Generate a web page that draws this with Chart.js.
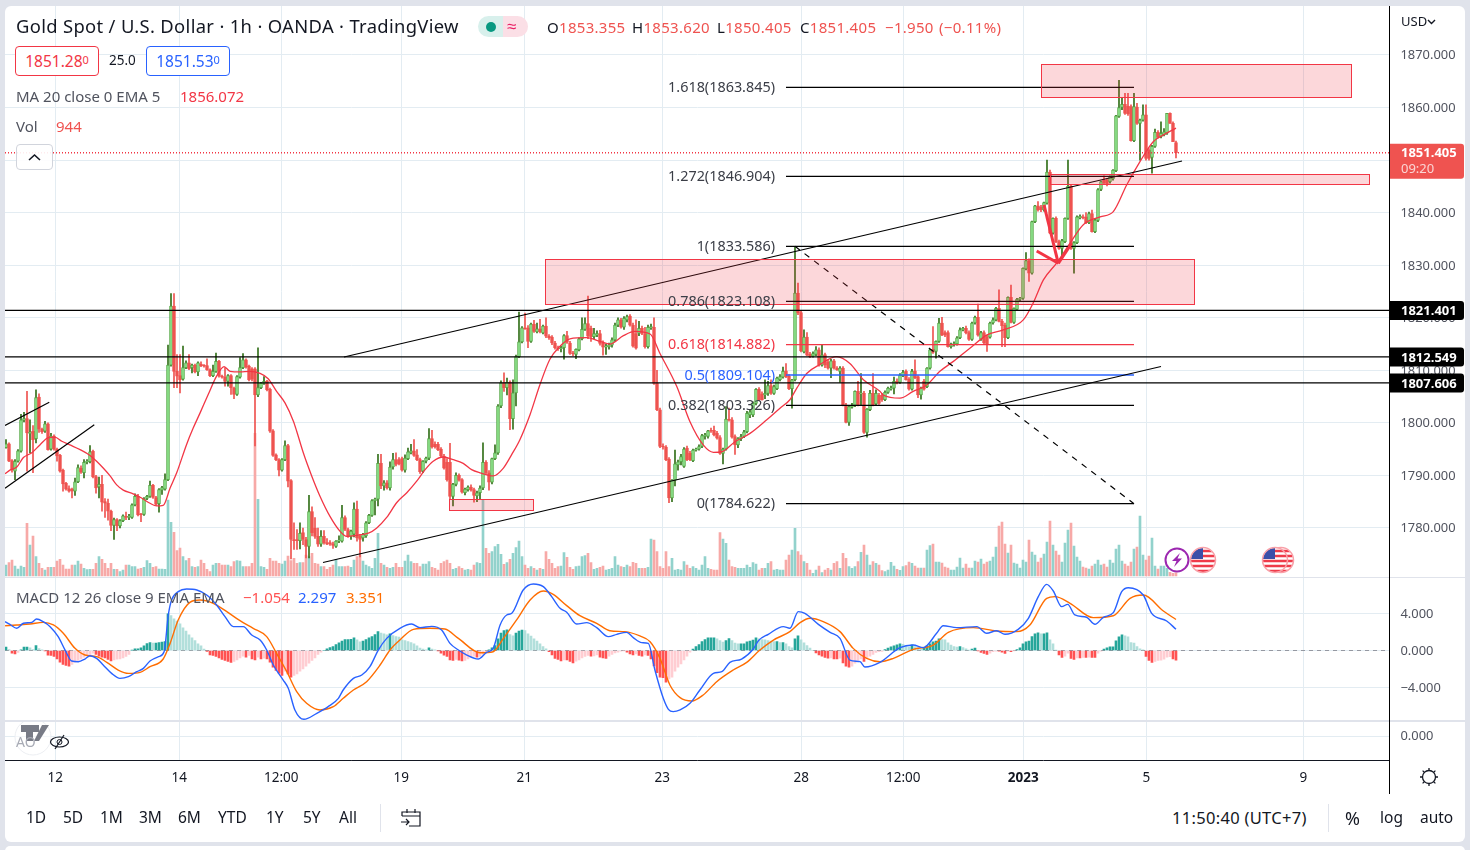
<!DOCTYPE html>
<html>
<head>
<meta charset="utf-8">
<title>Gold Spot / U.S. Dollar</title>
<script src="https://cdn.jsdelivr.net/npm/chart.js@4"></script>
<style>
html,body{margin:0;padding:0;width:1470px;height:850px;overflow:hidden;background:#e0e3eb;font-family:"Noto Sans",sans-serif;color:#131722}
.panel{position:absolute;left:5px;width:1460px;background:#fff;border-radius:6px}
canvas{position:absolute;left:5px}
.t{position:absolute;white-space:nowrap;line-height:1}
.q{top:20px;font-size:15px;letter-spacing:.3px;color:#ef5350}
.q span{color:#131722}
.line{position:absolute;background:#000}
.sep{position:absolute;left:5px;width:1460px;background:#e0e3eb}
.box{position:absolute;box-sizing:border-box;border:1px solid;border-radius:4px;background:#fff;text-align:center}
.box sup{font-size:11px;vertical-align:3px;line-height:0}
svg{position:absolute}
</style>
</head>
<body>
<div class="panel" style="top:6px;height:836px"></div>
<div class="panel" style="top:846px;height:10px"></div>
<canvas id="priceChart" width="1460" height="571" style="top:6px"></canvas>
<canvas id="macdChart" width="1460" height="143" style="top:578px"></canvas>
<canvas id="aoChart" width="1460" height="72" style="top:722px"></canvas>
<div class="sep" style="top:576.5px;height:1.5px"></div>
<div class="sep" style="top:720px;height:2px"></div>
<div class="line" style="left:1389px;top:6px;width:1px;height:788px"></div>

<div class="t" style="left:16px;top:17px;font-size:18.4px;letter-spacing:.33px">Gold Spot / U.S. Dollar · 1h · OANDA · TradingView</div>
<div style="position:absolute;left:478px;top:16px;width:50px;height:21px;border-radius:11px;background:linear-gradient(90deg,#d8f0ec 0 25px,#fbdfe6 25px)"></div>
<div style="position:absolute;left:486px;top:22px;width:10px;height:10px;border-radius:5px;background:#089981"></div>
<div class="t" style="left:507px;top:17px;font-size:17px;color:#e91e63">≈</div>
<div class="t q" style="left:547px"><span>O</span>1853.355</div>
<div class="t q" style="left:632px"><span>H</span>1853.620</div>
<div class="t q" style="left:717px"><span>L</span>1850.405</div>
<div class="t q" style="left:800px"><span>C</span>1851.405</div>
<div class="t q" style="left:885px">−1.950</div>
<div class="t q" style="left:939px">(−0.11%)</div>

<div class="box" style="left:15px;top:46px;width:84px;height:30px;border-color:#f23645;color:#f23645;font-size:15.5px;line-height:28px">1851.28<sup>0</sup></div>
<div class="t" style="left:109px;top:54px;font-size:13.5px">25.0</div>
<div class="box" style="left:146px;top:46px;width:84px;height:30px;border-color:#2962ff;color:#2962ff;font-size:15.5px;line-height:28px">1851.53<sup>0</sup></div>
<div class="t" style="left:16px;top:89px;font-size:15px;color:#50535e">MA 20 close 0 EMA 5</div>
<div class="t" style="left:180px;top:89px;font-size:15px;color:#f23645">1856.072</div>
<div class="t" style="left:16px;top:119px;font-size:15px;color:#50535e">Vol</div>
<div class="t" style="left:56px;top:119px;font-size:15px;color:#ef5350">944</div>
<div class="box" style="left:16px;top:144px;width:37px;height:26px;border-color:#d1d4dc;background:rgba(255,255,255,.9)"></div>
<svg style="left:28px;top:153px" width="13" height="8"><path d="M1 7 L6.5 2 L12 7" fill="none" stroke="#131722" stroke-width="1.6"/></svg>
<div class="t" style="left:16px;top:590px;font-size:15px;color:#50535e">MACD 12 26 close 9 EMA EMA</div>
<div class="t" style="left:243px;top:590px;font-size:15px;color:#ff5252">−1.054</div>
<div class="t" style="left:298px;top:590px;font-size:15px;color:#2962ff">2.297</div>
<div class="t" style="left:346px;top:590px;font-size:15px;color:#ff6d00">3.351</div>
<div class="t" style="left:1401px;top:15px;font-size:13px;color:#131722">USD</div>
<svg style="left:1427px;top:19px" width="9" height="6"><path d="M1 1 L4.5 4.5 L8 1" fill="none" stroke="#131722" stroke-width="1.4"/></svg>

<svg style="left:1164px;top:546px" width="26" height="28"><circle cx="13" cy="14" r="11.5" fill="#fff" stroke="#9c27b0" stroke-width="2"/><path d="M16 7 L8 15 H12.5 L10 21 L18 12.5 H13.5 Z" fill="#9c27b0"/></svg>
<svg style="left:1189px;top:546px" width="28" height="28"><defs><clipPath id="flagA"><circle cx="14" cy="14" r="12"/></clipPath></defs><g clip-path="url(#flagA)"><rect width="28" height="28" fill="#fff"/><path d="M0 5H28M0 10H28M0 15H28M0 20H28M0 25H28" stroke="#ef3b4a" stroke-width="2.5"/><rect x="0" y="0" width="14" height="13" fill="#3c4fa8"/></g><circle cx="14" cy="14" r="12.5" fill="none" stroke="#f9a0a8" stroke-width="1.5"/></svg>
<svg style="left:1267px;top:546px" width="28" height="28"><g clip-path="url(#flagA)"><rect width="28" height="28" fill="#fff"/><path d="M0 5H28M0 10H28M0 15H28M0 20H28M0 25H28" stroke="#ef3b4a" stroke-width="2.5"/></g><circle cx="14" cy="14" r="12.5" fill="none" stroke="#f9a0a8" stroke-width="1.5"/></svg>
<svg style="left:1261px;top:546px" width="28" height="28"><g clip-path="url(#flagA)"><rect width="28" height="28" fill="#fff"/><path d="M0 5H28M0 10H28M0 15H28M0 20H28M0 25H28" stroke="#ef3b4a" stroke-width="2.5"/><rect x="0" y="0" width="14" height="13" fill="#3c4fa8"/></g><circle cx="14" cy="14" r="12.5" fill="none" stroke="#f9a0a8" stroke-width="1.5"/></svg>

<svg style="left:13px;top:722px" width="60" height="34"><circle cx="20" cy="15" r="18" fill="rgba(255,255,255,.6)" stroke="#eceef2"/><path d="M8 3H26V10H20V19H13V10H8Z" fill="#787b86"/><path d="M29 3H36L26 19H21Z" fill="#787b86"/></svg>
<div class="t" style="left:16px;top:735px;font-size:14px;color:#a8abb5">AO</div>
<svg style="left:49px;top:733px" width="22" height="18"><ellipse cx="10.5" cy="9" rx="9" ry="5" fill="none" stroke="#131722" stroke-width="1.2"/><path d="M15 2 L6 16" stroke="#131722" stroke-width="1.2"/><circle cx="10.5" cy="9" r="2.5" fill="none" stroke="#131722"/></svg>
<svg style="left:1419px;top:767px" width="20" height="20"><circle cx="10" cy="10" r="6.5" fill="none" stroke="#131722" stroke-width="1.3"/><path d="M10 1V3.5M10 16.5V19M1 10H3.5M16.5 10H19M3.6 3.6L5.4 5.4M14.6 14.6L16.4 16.4M3.6 16.4L5.4 14.6M14.6 5.4L16.4 3.6" stroke="#131722" stroke-width="1.3"/></svg>

<div class="t" style="left:26px;top:810px;font-size:15.5px">1D</div>
<div class="t" style="left:63px;top:810px;font-size:15.5px">5D</div>
<div class="t" style="left:100px;top:810px;font-size:15.5px">1M</div>
<div class="t" style="left:139px;top:810px;font-size:15.5px">3M</div>
<div class="t" style="left:178px;top:810px;font-size:15.5px">6M</div>
<div class="t" style="left:218px;top:810px;font-size:15.5px">YTD</div>
<div class="t" style="left:266px;top:810px;font-size:15.5px">1Y</div>
<div class="t" style="left:303px;top:810px;font-size:15.5px">5Y</div>
<div class="t" style="left:339px;top:810px;font-size:15.5px">All</div>
<div class="line" style="left:380px;top:804px;width:1px;height:28px;background:#e0e3eb"></div>
<svg style="left:400px;top:807px" width="23" height="22"><path d="M2 9V5H20V19H9M2 9H20M7 2V6M15 2V6M1 15H9M6 12L9 15L6 18" fill="none" stroke="#131722" stroke-width="1.2"/></svg>
<div class="t" style="left:1172px;top:810px;font-size:16.5px;letter-spacing:.3px">11:50:40 (UTC+7)</div>
<div class="line" style="left:1328px;top:804px;width:1px;height:28px;background:#e0e3eb"></div>
<div class="t" style="left:1345px;top:809px;font-size:18px">%</div>
<div class="t" style="left:1380px;top:810px;font-size:15.5px">log</div>
<div class="t" style="left:1420px;top:810px;font-size:15.5px">auto</div>

<script>
// candles, oldest first, one line = 10 hours
const opens = [
1795.3,1796,1792.8,1790.8,1792.7,1794.6,1800.5,1800.8,1798,1798.4,
1797,1804.9,1798.8,1798.4,1799.8,1795,1797.5,1795,1793.8,1791,
1788.5,1787.5,1787.4,1787,1788.8,1791.4,1790.5,1792.5,1792.6,1794.6,
1789.8,1787.8,1788.3,1785,1784.7,1783.2,1780.5,1781.6,1780.4,1781.4,
1782.2,1782,1782,1784.4,1786,1782.6,1782.6,1785.6,1786,1788.1,
1785.8,1784.6,1787.2,1787.4,1789.2,1811,1822.2,1809.8,1809,1808.3,
1810.5,1811.4,1810.5,1811,1809.7,1811.2,1810.9,1810.9,1810.1,1809,
1809.8,1811.7,1808.9,1808.7,1807.9,1809,1806.6,1805.4,1808.7,1810.5,
1812,1810.8,1810.3,1810.3,1805.3,1806.7,1807.5,1807.9,1806.4,1798.5,
1793.9,1793,1791,1793,1795.7,1789,1777.8,1777.7,1777.6,1779.1,
1777.8,1776.5,1783.1,1780,1778.4,1776.9,1778.4,1777.2,1777.2,1777,
1776.5,1777.5,1777.5,1782,1779.7,1778.4,1778.8,1783.6,1778.4,1778.1,
1778.5,1781,1782.4,1785.2,1785.5,1792.3,1788,1788.6,1787.6,1791.6,
1793,1793,1793.2,1791,1793.2,1794.3,1794.7,1793.9,1793,1790.8,
1792.7,1793.3,1797,1795.9,1795.9,1795,1793.7,1792.5,1792.5,1786,
1788.3,1790,1789.2,1786.7,1787.3,1787.8,1787.3,1786.1,1786.7,1787.6,
1792.5,1790.5,1788.7,1793.2,1794.3,1803.2,1807.6,1806.7,1807.7,1800.8,
1805.7,1812.6,1815.4,1818.1,1818.1,1815.5,1818.8,1817.3,1817.9,1817.1,
1818.4,1816.5,1816.3,1815.2,1814.3,1814.1,1814.3,1816.6,1815.2,1813.3,
1813,1813.9,1816,1817.8,1818.9,1818,1816.4,1816.7,1817,1815.2,
1814.4,1814.5,1814.8,1815.8,1818.6,1819.6,1818.2,1819.6,1820.3,1818.6,
1817,1817,1818,1817,1814.5,1818.1,1818.2,1807.5,1802.5,1795.6,
1795.4,1793.1,1785.7,1789.1,1792,1792.6,1791.7,1795.2,1794.2,1792.8,
1794.8,1795,1795.5,1797.4,1797.4,1798.6,1798.6,1798,1797.2,1794.2,
1795,1800.7,1800.6,1797.4,1795.8,1797,1797.4,1798.3,1801.5,1801.5,
1803.7,1806.4,1805.5,1805.3,1805.6,1807.1,1805.6,1806.5,1808.2,1808.7,
1809.9,1808.9,1806.5,1808.2,1824.7,1821,1813.5,1816.3,1813.1,1812.7,
1813,1813.9,1811,1813,1811.6,1810.4,1811.8,1810.4,1809.8,1810.4,
1803.4,1800.1,1803,1803.3,1806,1805.5,1805.6,1798.2,1802.5,1805.6,
1803.6,1805.3,1805.3,1804.4,1805.8,1806.4,1806.6,1807.9,1807.7,1809,
1809.8,1808.3,1806.4,1809.9,1808.8,1805.3,1807.9,1806.9,1810.4,1814,
1813.6,1815.5,1819,1817.2,1817.2,1814.5,1814.9,1815,1816.2,1817.7,
1818,1817.2,1815.9,1819,1820.1,1815.9,1817.2,1816.4,1816.3,1819,
1819.6,1821.8,1819.3,1818.6,1816.2,1823.9,1819.1,1821.6,1823.5,1823.7,
1829.3,1830.9,1828.5,1838.3,1841.3,1841.1,1840.5,1841.8,1847.7,1836.1,
1838.9,1834.5,1833.2,1834.5,1838.9,1845.1,1833.2,1834.3,1839,1839.2,
1839.2,1838.1,1839.8,1836.4,1838.5,1844.4,1846.3,1846.2,1845.9,1846.4,
1848,1858.3,1860,1860.6,1860.3,1860.2,1853.7,1860.1,1857,1857.6,
1858.6,1851.9,1850.5,1852.6,1855.3,1854.5,1854.8,1855.1,1858.9,1857,1853.355];
const highs = [
1796.8,1796.2,1793,1793,1794.9,1801.6,1802,1806,1800.6,1799.5,
1806.3,1805.5,1799,1800.3,1800,1798,1797.7,1795.2,1794,1791.2,
1788.7,1788,1787.6,1789.5,1792,1791.8,1793,1793,1795.7,1794.8,
1790,1789.7,1790,1785.6,1785.5,1783.4,1781.9,1781.8,1781.6,1782.5,
1783,1782.6,1784.6,1786.5,1786.4,1782.8,1785.8,1786.2,1788.9,1788.3,
1786,1787.5,1787.9,1790.3,1814.8,1824.6,1824.6,1813,1813,1814.6,
1811.8,1813,1811.2,1811.2,1811.6,1811.6,1811.1,1812.2,1810.3,1811,
1813.3,1811.9,1809.1,1810.5,1809.2,1809.2,1806.8,1809,1812.4,1813.2,
1812.2,1811,1810.5,1810.5,1814.3,1807.7,1808.8,1808.1,1806.6,1798.7,
1794.1,1793.2,1793.2,1796.6,1795.9,1789.2,1781,1779.7,1781,1780,
1778.2,1786.2,1784,1782,1780,1779.5,1779.5,1778,1777.6,1777.3,
1777.6,1778.5,1784.3,1782.3,1780,1779.6,1784.8,1785.1,1778.8,1779,
1781.2,1782.6,1785.4,1785.7,1794,1794,1789,1789,1792.6,1794.2,
1794.3,1793.4,1793.5,1793.9,1795.2,1795.9,1796.8,1794.9,1793.3,1792.8,
1793.5,1798.9,1798.6,1796.4,1796.3,1795.3,1794,1793.2,1796.1,1788.5,
1790.5,1790.3,1789.4,1787.6,1788,1788.2,1787.6,1787,1788,1796.2,
1792.8,1790.9,1793.3,1795.8,1803.5,1808,1809.5,1808.5,1808,1808.2,
1812.9,1821.1,1818.3,1820.9,1818.5,1819,1819.5,1819,1819.7,1818.6,
1820,1816.8,1816.6,1815.5,1814.6,1814.6,1816.8,1817.4,1815.5,1813.6,
1814.1,1816.2,1820,1820,1824.1,1818.4,1818,1817.5,1817.6,1815.6,
1815,1815.2,1816.2,1819,1820,1819.9,1820.2,1820.5,1820.6,1819,
1819.6,1819.3,1818.4,1818.2,1818.6,1818.8,1820,1810,1802.8,1796,
1795.7,1793.4,1789.2,1794.8,1792.9,1794,1795.3,1795.6,1794.6,1795,
1795.2,1795.8,1797.8,1798,1798.6,1799,1799.4,1798.4,1797.6,1795.2,
1803.1,1802.8,1801,1797.7,1797.2,1797.8,1798.6,1802.2,1802.5,1804,
1806.5,1806.7,1805.9,1808.2,1807.9,1808.2,1807.2,1808.7,1809.2,1810.6,
1811.3,1809.2,1808.3,1833.5,1826.6,1821.3,1817.7,1817.2,1813.4,1813.5,
1814.5,1814.3,1814.8,1813.3,1812,1812.1,1812.1,1810.7,1810.7,1810.7,
1803.7,1803.2,1803.7,1806.1,1807.9,1809.4,1806,1802.7,1806.2,1809.4,
1806.3,1805.6,1805.6,1806.1,1806.8,1807,1808.7,1808.4,1809.4,1810,
1810.1,1808.6,1810.2,1812,1809,1806.8,1808.3,1810.5,1814,1818.3,
1815.6,1819.9,1820.1,1817.5,1817.5,1815.2,1815.4,1816.4,1818.1,1818.2,
1818.4,1817.5,1819.2,1820.3,1822.6,1817.4,1817.5,1816.7,1819.2,1820,
1822,1825.3,1819.7,1819,1824,1826.2,1821.9,1823.7,1823.9,1829.5,
1832.4,1831.2,1838.4,1841.4,1842.1,1841.4,1842,1850,1848.1,1839,
1839.2,1834.8,1834.9,1839,1850,1845.4,1834.5,1839.4,1839.6,1839.6,
1840,1840.1,1840.5,1838.8,1844.6,1846,1847,1846.5,1847,1848.2,
1858.5,1865.2,1861.8,1862.7,1862.7,1860.5,1862.7,1860.8,1857.8,1860.5,
1860.5,1852.2,1852.8,1855.9,1855.6,1857.3,1856,1858.9,1859,1857.3,1853.62];
const lows = [
1795.2,1792.6,1790.6,1789.2,1792.5,1794.4,1800.2,1790.8,1794.3,1790.5,
1796.2,1798.2,1798,1798.2,1794.8,1794.8,1794.8,1792.7,1790.6,1787,
1787.2,1786.8,1785.7,1786.2,1788.6,1790.4,1789.5,1792.2,1792.4,1789.5,
1786.6,1785.7,1783.2,1782,1781.5,1779.5,1777.8,1779.5,1780,1781.2,
1781.6,1781.6,1781.8,1784.2,1782.3,1781.2,1782.4,1785.4,1785.8,1785.6,
1784.3,1783,1786.4,1787.2,1789,1810.8,1806.7,1806.7,1805.7,1808.1,
1810.3,1810.1,1809.5,1809.5,1809,1810.7,1810.6,1810,1808.8,1808.8,
1809.6,1808.7,1808.5,1807,1807,1805.4,1804.6,1805.2,1808.5,1810.3,
1810.4,1808,1808,1795.6,1805,1806.5,1807.3,1806.1,1798.2,1793.6,
1792.8,1789.9,1790.8,1792.8,1787.8,1774.1,1775.9,1775.9,1776,1776.8,
1774.3,1774.3,1778.5,1778,1776.5,1776.5,1776.9,1776.8,1776.7,1776.1,
1776.3,1777.2,1777.3,1779.5,1778.2,1777.8,1778.3,1777.5,1774.5,1777.5,
1778.2,1780.8,1782.2,1782.5,1784.2,1787.5,1787.2,1787.4,1787.2,1791.2,
1791.8,1792,1790.8,1790.6,1793,1794.1,1793.6,1792.8,1790.4,1790.5,
1792.4,1793,1795.2,1795.2,1794.7,1793.5,1791.2,1788.9,1785.4,1784.2,
1788,1788.9,1786.6,1786.3,1787,1787,1784.9,1785,1785.4,1787.3,
1790.3,1787.2,1788.4,1793,1794,1802.9,1806,1805.3,1798.7,1798.8,
1803.2,1812.4,1815.2,1817.8,1814.3,1815.3,1817.2,1817.1,1817.1,1816.9,
1816.2,1815.9,1814.9,1814,1813.8,1813.5,1812.1,1815.1,1813,1812.8,
1812.2,1813.7,1815.8,1817.6,1816,1815.5,1816,1816.4,1814.8,1812.9,
1813,1814,1814.4,1815.5,1818.3,1818,1817.8,1819.2,1818.4,1814.4,
1814,1816.6,1816.8,1814.2,1814.2,1817.8,1807.3,1802.3,1795.3,1795,
1792.8,1784.8,1785,1788,1791,1792,1791.5,1792.8,1792.8,1792.6,
1794.6,1794.8,1795.3,1796.9,1797.1,1798.2,1797.5,1796.9,1794,1792.2,
1794.8,1800.3,1797.1,1794,1795.3,1796.6,1797.2,1798.1,1801,1801.2,
1803.4,1804.2,1804.3,1804.6,1805.2,1805.4,1805.4,1806.3,1808,1808.5,
1808.6,1806.3,1802.8,1808,1820.6,1813.5,1813.3,1812.8,1812.4,1812.5,
1812.8,1810.8,1810.8,1810.5,1810.2,1808.6,1810.2,1810,1807.7,1803.2,
1800,1799.5,1802.8,1803.1,1803.2,1803.3,1798,1797.3,1802.3,1803.2,
1803.4,1803.5,1804.1,1804.2,1805.6,1806.2,1805.5,1807.4,1807.5,1808.8,
1808.1,1806.2,1806.2,1808.4,1804.8,1804.5,1806.2,1806.7,1810.2,1813.2,
1812.3,1815.3,1816.6,1816.4,1814.4,1814.2,1814.6,1814.8,1816,1817.5,
1816.9,1815.7,1815.7,1818.8,1816.5,1815.7,1815,1813.6,1816.1,1818.8,
1819.4,1819.2,1814.5,1814.5,1816,1819,1818.9,1821.4,1823.2,1823.5,
1829.1,1826.9,1828.3,1838.1,1840.3,1840.2,1840.3,1841.6,1836,1835.9,
1834.3,1833,1831.8,1834.3,1838.7,1833,1828.5,1834.1,1838.8,1838.8,
1837.9,1837.9,1836.3,1836.2,1838.3,1844.2,1845.3,1845.1,1845.6,1846.2,
1847.8,1858.1,1859.6,1858.7,1858.5,1853.6,1853.5,1856.8,1850,1857.4,
1850,1850,1847.5,1852.4,1854.2,1854.2,1854.6,1854.9,1857,1853.5,1850.405];
const closes = [
1796,1792.7,1791.1,1792.7,1794.7,1800.6,1800.8,1798.1,1798.2,1796.8,
1804.8,1798.8,1798.3,1799.8,1794.9,1797.5,1795,1793.7,1790.8,1788.4,
1787.4,1787,1787,1788.8,1791.5,1790.6,1792.5,1792.6,1794.5,1789.7,
1787.6,1788.3,1784.9,1784.7,1783.2,1780.5,1781.6,1780.4,1781.4,1782.3,
1782,1782.2,1784.4,1786,1782.5,1782.5,1785.6,1786,1788.1,1785.8,
1784.5,1787.3,1787.7,1789.2,1811,1822.2,1809.8,1808.9,1808.2,1810.5,
1811.4,1810.3,1811,1809.7,1811.4,1810.9,1810.8,1810.1,1809,1809.8,
1811.7,1808.9,1808.7,1807.9,1809,1806.7,1805.4,1808.8,1810.5,1812,
1810.6,1808.2,1808.3,1805.3,1806.7,1807.5,1807.9,1806.3,1798.4,1793.8,
1793,1791,1793,1795.7,1788.9,1777.8,1777.6,1777.6,1779,1777.8,
1776.5,1783.1,1779.1,1778.4,1776.9,1778.4,1777.2,1776.9,1776.9,1776.7,
1777.5,1777.6,1782,1779.7,1778.4,1779.4,1783.6,1778.1,1777.8,1778.8,
1781,1782.4,1785.2,1785.5,1792.3,1788,1788.6,1787.6,1791.6,1793,
1792.1,1792.2,1791,1793.3,1794.5,1794.7,1793.8,1793,1790.7,1792.7,
1793.3,1797,1795.4,1795.4,1794.9,1793.7,1791.4,1789.2,1786,1788.3,
1790,1789.1,1786.8,1787.4,1787.8,1787.2,1786.2,1786.7,1787.6,1792.5,
1790.5,1788.7,1793.2,1794.3,1803.2,1807.6,1806.7,1807.7,1800.8,1805.7,
1812.6,1815.4,1818.1,1817.9,1815.5,1818.8,1817.4,1817.9,1817.3,1818.4,
1816.5,1816.2,1815.2,1814.3,1814.1,1814.3,1816.6,1815.3,1813.2,1813.1,
1814,1816,1817.8,1818.9,1816.5,1816.4,1817,1817,1815.1,1814.4,
1814.6,1814.8,1815.8,1818.6,1819.6,1818.2,1819.9,1820.2,1818.6,1814.6,
1814.2,1818,1817,1814.5,1818.2,1818.3,1807.5,1802.5,1795.5,1795.4,
1793,1785.7,1789.1,1792.2,1792.6,1793.6,1795,1793,1793,1794.8,
1795,1795.5,1797.6,1797.7,1798.5,1798.4,1797.7,1797.1,1794.2,1795,
1800.7,1800.5,1797.3,1795.8,1797,1797.4,1798.3,1801.8,1802.1,1803.7,
1806.4,1804.4,1804.4,1805.6,1807.1,1805.6,1806.9,1808.5,1808.8,1809.8,
1808.8,1806.5,1808.2,1824.7,1820.9,1813.7,1816.3,1812.9,1812.6,1813.2,
1813.9,1811,1812.9,1811,1810.4,1811.8,1810.4,1810.1,1810.4,1803.4,
1800.1,1803.1,1803.4,1806,1803.4,1805.6,1798.2,1802.6,1805.6,1803.4,
1805.6,1803.7,1804.4,1805.8,1806.6,1806.6,1807.9,1807.7,1809.1,1809.6,
1808.2,1806.4,1809.8,1808.6,1805.3,1806.6,1806.4,1810.4,1813.9,1813.4,
1815.5,1819,1816.7,1816.7,1814.5,1814.9,1815.1,1816.2,1817.7,1818,
1817.1,1815.9,1819,1820.1,1816.7,1817.2,1815.2,1815,1819,1819.6,
1821.8,1819.3,1818.5,1816.2,1823.9,1819.1,1821.8,1823.5,1823.7,1829.4,
1830.9,1828.5,1838.3,1841.3,1840.5,1840.5,1841.9,1847.7,1836.1,1838.9,
1834.5,1833.2,1834.7,1838.9,1845,1833.2,1834.3,1839.2,1839.3,1839,
1838.1,1839.8,1836.4,1838.6,1844.4,1845.9,1845.6,1845.4,1846.8,1848.1,
1858.4,1860,1860.6,1858.9,1858.8,1853.7,1860.2,1857,1857.6,1858.6,
1850.3,1850.3,1852.6,1855.3,1854.4,1855.1,1855.4,1858.9,1857,1853.5,1851.405];
// volume in thousands
const volumes = [
3.3,4,4.8,3,2.1,3,2.6,15.8,9.3,12,5.8,3.8,2.3,1.8,2.6,2.6,2.6,4.5,5,3.3,
2.1,2.1,3.3,3.3,4.5,3.6,2.3,1.9,2,2,3.8,5.8,5,3.8,2.3,3.8,2,2,1.3,1.8,
3.3,3.3,2.8,2.8,2.1,2.3,2.6,4.6,3.8,2.6,2.8,2.1,2.1,2,22.8,16.1,13.1,7.6,8.4,5.8,
4.6,5.3,2.8,2.6,2.8,4.8,3.8,2,1.3,3.3,3.8,3.8,3.3,3.3,3.3,2.8,4.3,4.6,4.5,2.8,
2.8,2.8,3.8,42.8,23,2.8,2.6,2,5.3,4.5,4.5,3.8,3.6,4.5,6,4.6,5.3,3.8,4,
4,6.3,5.8,6.8,3.8,3.6,2.8,2.8,2,2.6,3.3,5,2.8,2.8,2.8,3,2.6,4.8,5.8,6.3,
4.5,3.3,2.8,2.3,5.3,12.8,3.8,3.3,2.6,2.3,2.6,3.8,2.6,2.6,4.5,6.3,4.3,3.8,3.8,2.8,
3.6,3.6,4.3,2.6,2.3,1.8,3.8,4.3,4.8,3.8,2,2.3,2.8,2.3,1.8,2,1.8,3.3,4,3.8,
22.8,8.3,6.8,7.3,8.8,9.5,6.5,3.5,4,5,6.8,8.5,10.5,5.8,3.3,2.3,2.8,2.3,1.8,2.3,
2,7.3,5,3.8,2.3,2.8,3,7,5.6,2.6,2,2.8,3,5.8,6.1,6.8,
4,2,2.3,2.6,3,1.8,2,2.3,5.8,3.3,2.8,2.6,3.3,2.8,4.1,3.8,2.3,2.3,2.3,2.6,
11.1,10.8,7.3,2.8,2.3,7.3,2.8,5.3,1.8,2,1.8,4.3,3.3,2.3,2.8,2.3,1.8,3.3,5.8,2.3,
2,1.8,1.8,13,11.1,9.8,4.8,2.8,2.6,2.3,2.3,2.3,3.3,2.6,4,3.6,1.8,2.3,2.3,3.8,
4.3,1.8,2,1.8,1.8,4.8,6.3,7.8,14.3,
7.3,6.3,4.3,3.8,1.8,.8,1.8,3,1,1.8,2.3,1.8,3.8,4.3,2.3,6.8,5.3,2.8,2.3,2.8,
4.3,7.1,9.3,6.3,3.3,4.3,3.8,3.3,
1.6,1.3,1.8,4.1,3,2,1.7,2.8,3.1,4.2,3.8,3,2.4,2.4,2.4,7.8,9.1,9.6,4.2,4.2,
3.9,2.7,2.4,1.8,1.8,2.7,5.4,2.4,3.6,2.4,2.4,4.5,4.2,5.1,3.6,4.2,4.5,5.7,8.7,15,
16.2,9.6,6.9,9.3,3.9,3.6,2.4,4.8,4.2,10.8,7.2,6.3,4.2,5.4,6.6,10.2,16.5,9.3,7.5,6.3,
4.2,9.9,13.8,15.9,9,5.7,4.5,2.7,2.4,2.1,3,3.6,4.8,3.3,3.6,2.7,4.8,3.9,8.1,9.3,
4.5,3.6,3,4.2,8.1,8.7,18,6.3,4.8,6,11.4,3,2.1,3,3,2.3,1.1,.8,.944];
// MA line, read at turning points: bar position and price
const maBars = [-.3,1.3,3.6,5.8,8.6,11.3,14.1,16.3,18.6,21.3,24.7,28,30.2,32.4,34.7,36.9,39.1,42.4,45.2,48,50.2,52.4,54.7,56.9,60.2,62.4,64.7,67.4,70.2,72.7,74.7,78,81.3,84.7,87.4,90.2,93,95.8,96.9,99.1,101.9,104.7,108,111.3,113.6,116.9,120.8,123.6,126.9,130.2,133.6,136.9,139.7,142.4,145.8,149.1,152.4,155.2,158,162.4,165.8,168.6,171.3,174.7,178,181.3,184.7,188,193.6,198,201.3,205.8,209.7,214.7,218,223.6,228,232.4,235.8,238.6,243,248,253.6,258,261.3,263.6,266.9,271.3,276.9,281.3,285.8,291.3,292.4,298,302.4,306.9,311.3,315.8,321.3,326.9,332.4,339.1,342.4,345.8,350.2,354.7,359.1,364.7,369.1,373.6,378,382.4,385.8,390];
const maValues = [1790.3,1791,1791.6,1793.4,1794.3,1795.8,1797.2,1797.3,1796.5,1795.8,1794.9,1793.8,1792.7,1791.4,1789.9,1788.2,1787.2,1786.5,1785.7,1784.7,1784.2,1784.3,1787.6,1790.5,1795.9,1799,1801.9,1805.4,1808.9,1810.7,1809.8,1809.7,1809.8,1809.4,1808.4,1806,1803.8,1800.3,1798.4,1794.3,1789.9,1786,1782.2,1779.4,1778.4,1778.6,1779,1780,1782,1784.8,1786.7,1788.9,1791.1,1792.7,1793.5,1793,1792.3,1791.1,1790.5,1789.9,1791.4,1794,1796.8,1801.6,1807.3,1812.1,1814.6,1816,1816.2,1815.5,1815,1816.6,1817.4,1816.9,1813.2,1806.9,1800.2,1795.8,1794.4,1794.5,1796.4,1798,1800.6,1802.8,1804.4,1806.6,1809.4,1811.1,1812.6,1811.3,1808.2,1806,1805.3,1804.7,1806,1807.2,1809.8,1811.7,1814.2,1816.7,1817.7,1819.6,1822.8,1827.2,1830.4,1834.2,1837.7,1839.2,1840.2,1845.3,1849.7,1853.5,1854.8,1856.072];
// MACD panel
const macdBars = [-.3,1.3,3.6,5.8,8.6,10.2,12.4,14.7,17.4,19.7,21.9,24.1,26.3,28,30.2,32.4,35.2,38,40.8,43.6,45.8,48,50.8,52.7,54.1,55.2,57.4,60.2,63.6,66.9,70.2,73,75.8,79.1,81.9,84.7,86.9,89.1,92.4,94.1,96.3,99.3,103.6,107.4,110.8,112.4,115.8,118.6,121.3,124.1,126.9,131.3,135.2,138,141.9,145.2,148,150.8,153.6,157.4,160.2,162.4,164.7,166.9,168.6,172.4,175.8,179.1,181.9,184.7,186.9,190.2,193.6,196.9,200.8,203.6,206.9,209.1,211.9,214.1,216.3,219.1,220.8,222.4,224.7,228,231.3,235.8,238.6,241.3,245.2,249.1,250.8,254.1,259.1,261.3,264.1,266.3,270.8,274.7,278,281.3,284.7,286.3,291.3,298,302.4,305.8,310.2,312.4,316.9,323.6,326.9,330.2,333,337.4,340.8,344.1,346.9,349.1,351.9,353.9,356.3,360.2,363,365.8,369.1,371.9,374.1,379.1,381.9,386.9,390];
const macdValues = [3.12,2.83,2.4,2.94,3.04,3.4,3.12,2.58,1.5,.05,-1.14,-1.21,-.92,-.56,-.85,-1.57,-2.47,-3.01,-2.83,-2.29,-1.93,-1.14,-.67,-.13,3.84,5.46,6.36,6.65,6.54,6,4.92,3.66,2.58,2.58,1.67,1.13,.05,-1.57,-3.19,-4.09,-6.43,-7.44,-6.79,-6.07,-5.17,-4.27,-3.01,-2.65,-1.75,.05,1.31,2.4,2.86,2.47,2.61,2.22,.77,.05,-.49,-.92,-.2,.23,2.76,3.84,4.02,6.54,7.19,6.9,5.82,4.56,4.13,2.86,3.01,2.47,1.5,1.75,1.96,1.39,.85,.77,-2.11,-5.17,-6.36,-6.61,-6.43,-5.71,-4.27,-2.47,-2.29,-1.28,-.92,.16,1.06,1.75,2.58,2.4,4.2,4.02,2.83,1.96,1.31,-1.03,-1.21,-1.78,-1.28,.31,.59,.31,1.86,2.68,2.47,2.58,1.86,2.14,1.75,2.29,3.48,5.82,7.15,6.43,4.74,4.99,3.84,3.59,2.83,3.59,4.09,6.36,6.79,6,4.02,3.19,2.297];
const signalBars = [-.3,3.6,8,12.4,15.8,19.1,23,26.3,30.2,33.6,37.4,40.8,44.7,48,52.4,54.7,57.4,61.3,64.7,69.1,73.6,78,82.4,86.9,90.2,93.6,96.9,100.2,104.7,109.1,112.4,115.8,120.2,124.7,128,131.3,135.8,141.3,146.3,150.8,158,162.4,165.8,170.2,174.7,179.1,182.4,186.9,191.3,196.9,201.3,206.3,211.3,214.7,218,221.3,224.7,228.6,232.4,236.9,242.4,246.9,251.3,255.8,261.3,264.7,268,272.4,278,282.4,286.9,291.3,295.8,302.4,309.1,314.1,322.4,330.2,336.9,341.3,346.9,349.7,354.7,362.4,369.1,374.7,379.1,385.8,390];
const signalValues = [2.68,2.76,2.86,3.04,2.76,1.86,.23,-.49,-.67,-1.28,-2.11,-2.47,-2.36,-1.75,-.92,.77,3.3,5.21,5.46,5.1,4.2,3.22,2.4,1.5,-.31,-2.29,-4.45,-5.71,-6.43,-6.07,-5.17,-4.27,-3.37,-1.57,.05,1.13,2.29,2.4,2.32,1.31,-.24,-.13,1.31,3.3,5.46,6.43,6.07,4.85,3.76,2.94,2.14,2.04,1.57,.95,-.85,-3.73,-5.1,-5.46,-4.81,-3.37,-2.11,-1.28,.05,1.13,2.04,3.01,3.48,3.12,2.04,.23,-.85,-1.21,-.85,.13,.59,1.96,2.47,2.11,2.04,2.76,5.64,5.82,5.1,3.55,3.76,5.64,6,4.27,3.351];
const histValues = [
.36,.11,-.29,-.36,-.22,.07,.36,.36,.29,.11,.54,.22,.07,-.04,-.5,-.54,-.65,-.9,-1.26,-1.51,
-1.62,-1.69,-1.51,-1.26,-1.08,-.9,-.72,-.54,-.5,-.29,-.43,-.61,-.72,-.79,-.97,-1.12,-1.01,-.94,-.9,-.79,
-.65,-.43,.04,.18,.18,.29,.5,.76,.86,.79,.79,.86,.9,.97,3.96,3.78,3.42,3.17,2.88,2.45,
2.09,1.69,1.37,1.08,.72,.5,.14,-.11,-.47,-.54,-.65,-.79,-.97,-1.08,-1.19,-1.3,-1.19,-1.01,-.79,-.61,
-.72,-.54,-.9,-1.01,-.72,-.9,-.83,-.9,-1.26,-1.8,-2.16,-2.45,-2.7,-2.23,-2.52,-2.88,-2.7,-2.52,-2.23,-1.98,
-1.69,-1.37,-1.08,-.79,-.43,-.18,0,.18,.32,.43,.65,.83,1.01,1.19,1.19,1.22,1.37,1.15,.94,1.01,
1.19,1.37,1.51,1.73,2.05,1.87,1.8,1.69,1.8,1.62,1.51,1.44,
1.15,1.08,.97,.86,.72,.5,.25,.14,.07,.29,.14,.07,-.04,-.29,-.5,-.65,-1.01,-1.08,-.97,-1.04,
-1.12,-1.08,-.9,-.72,-.61,-.72,-.65,-.43,-.18,.07,.29,.54,1.26,1.87,2.16,2.23,1.73,1.58,1.87,2.09,
2.2,2.16,1.8,1.55,1.26,1.01,.72,.43,.18,-.14,-.47,-.86,-.97,-1.12,-1.01,-1.01,-1.19,-1.33,-1.15,-1.01,
-.79,-.65,-.54,-.61,-.58,-.47,-.72,-.79,-.86,-.61,-.43,-.25,-.18,-.07,-.04,-.18,-.36,-.47,-.36,-.54,
-.61,-.47,-.54,-.9,-1.66,-2.41,-2.88,-2.95,-3.42,-3.06,-2.88,-2.23,-1.8,-1.44,-1.01,-.61,-.18,.14,.43,.65,
.97,1.19,1.37,1.37,1.37,1.26,1.08,.9,1.08,1.3,1.08,.79,.72,.72,.72,.94,1.01,1.12,1.37,1.26,
1.19,1.15,1.08,1.01,.97,.97,.86,.86,.72,.43,.29,1.26,1.58,
1.15,.83,.54,.25,0,-.25,-.47,-.61,-.76,-.83,-.79,-.9,-.9,-.83,-1.33,-1.69,-1.8,-1.69,-1.37,-1.08,
-.9,-1.19,-.79,-.61,-.43,-.22,-.14,-.11,.11,.25,.4,.5,.61,.72,.68,.47,.36,.61,.43,.29,
.18,.29,.5,.72,.94,1.01,1.26,1.19,1.15,.83,.58,.43,.36,.43,.32,.18,.04,.14,.25,-.04,
-.22,-.32,-.43,-.29,-.14,-.07,-.07,-.18,-.32,-.07,-.14,-.04,.11,.29,.72,.94,1.01,1.51,1.8,1.91,
1.8,1.8,1.91,1.15,.72,.04,-.47,-.76,-.61,-.29,-.86,-.97,-.79,-.79,-.76,-.76,-.72,-.76,-.76,-.29,
-.07,.14,.29,.4,.4,1.04,1.48,1.69,1.58,1.48,.86,.79,.43,.18,.07,-.65,-1.08,-1.3,-1.19,-1.08,
-1.04,-.94,-.72,-.68,-.9,-1.054];
// axes
const priceTicks = [1780,1790,1800,1810,1820,1830,1840,1850,1860,1870];
const macdTicks = [-4,0,4];
const aoTicks = [0];
const timeTickBars = [16.43,57.77,91.77,131.77,172.77,218.77,265.1,299.1,339.1,380.1,432.43];
const timeTickLabels = ["12","14","12:00","19","21","23","28","12:00","2023","5","9"];
// drawn levels and tools
const levelPrices = [1821.401,1812.549,1807.606];
const lastPrice = 1851.405;
const fibRatios = ["1.618","1.272","1","0.786","0.618","0.5","0.382","0"];
const fibPrices = [1863.845,1846.904,1833.586,1823.108,1814.882,1809.104,1803.326,1784.622];
const fibColors = ["#000","#000","#000","#000","#f23645","#2962ff","#000","#000"];
const fibTextColors = ["#3b3e47","#3b3e47","#3b3e47","#3b3e47","#f23645","#2962ff","#3b3e47","#3b3e47"];
const fibStartBar = 260, fibEndBar = 376, fibLabelBar = 256.33;
const boxBarsFrom = [345,348,179.8,147.8];
const boxBarsTo = [448.3,454.3,396,175.8];
const boxPriceTop = [1868.3,1847.3,1831.1,1785.6];
const boxPriceBottom = [1862,1845.4,1822.6,1783.4];
const trendBars = [[112.67,392],[105.67,385],[-.33,14.43],[-.33,29.43]];
const trendPrices = [[1812.53,1849.83],[1773.43,1810.72],[1799.5,1803.91],[1787.55,1799.65]];
const fibDiagBars = [263,376];
const fibDiagPrices = [1833.586,1784.622];
const arrowBars = [[346,350.77],[343.57,350.77],[355.23,350.77]];
const arrowPrices = [[1841.46,1830.36],[1832.7,1830.36],[1834.17,1830.36]];

const xMin = -1/3, xMax = 461.17;
const gridColor = "#e3ecf2";
const fontName = '"Noto Sans", sans-serif';

function toPoints(xs, ys) {
    return xs.map((x, i) => ({ x: x, y: ys[i] }));
}

function lineSet(xs, ys, color, width, dash, order, smooth) {
    return {
        type: "line",
        data: toPoints(xs, ys),
        borderColor: color,
        borderWidth: width,
        borderDash: dash || [],
        pointRadius: 0,
        tension: 0,
        cubicInterpolationMode: smooth ? "monotone" : "default",
        order: order,
        yAxisID: "y"
    };
}

function xScale(showLabels) {
    return {
        type: "linear",
        min: xMin,
        max: xMax,
        offset: false,
        border: { display: false },
        grid: { color: gridColor, offset: false, drawTicks: false },
        ticks: {
            display: showLabels,
            autoSkip: false,
            maxRotation: 0,
            padding: 10,
            color: "#131722",
            font: ctx => ({
                family: fontName,
                size: 13.5,
                weight: ctx.index === 8 ? "bold" : "normal"
            }),
            callback: (v, i) => timeTickLabels[i]
        },
        afterBuildTicks: s => { s.ticks = timeTickBars.map(v => ({ value: v })); },
        afterFit: s => {
            s.height = showLabels ? 34 : 0;
            s.paddingLeft = 0;
            s.paddingRight = 0;
        }
    };
}

function yScale(min, max, tickList, fmt) {
    return {
        position: "right",
        min: min,
        max: max,
        border: { display: false },
        grid: { color: gridColor, drawTicks: false },
        ticks: {
            padding: 11,
            labelOffset: .7,
            color: "#50535e",
            font: { family: fontName, size: 12.9 },
            callback: fmt
        },
        afterBuildTicks: s => { s.ticks = tickList.map(v => ({ value: v })); },
        afterFit: s => {
            s.width = 75.5;
            s.paddingTop = 0;
            s.paddingBottom = 0;
        }
    };
}

const fmtValue = v => v.toFixed(3).replace("-", "\u2212");

// boxes, fib captions and the price tags on the axis
const toolsPlugin = {
    id: "tools",
    afterDatasetsDraw(chart) {
        const ctx = chart.ctx, x = chart.scales.x, y = chart.scales.y;
        ctx.save();
        ctx.beginPath();
        ctx.rect(chart.chartArea.left, chart.chartArea.top, chart.chartArea.width, chart.chartArea.height);
        ctx.clip();
        boxBarsFrom.forEach((b, i) => {
            const left = Math.round(x.getPixelForValue(b)) + .5, right = Math.round(x.getPixelForValue(boxBarsTo[i])) + .5;
            const top = Math.round(y.getPixelForValue(boxPriceTop[i])) + .5, bottom = Math.round(y.getPixelForValue(boxPriceBottom[i])) + .5;
            ctx.fillStyle = "rgba(242,54,69,.2)";
            ctx.fillRect(left, top, right - left, bottom - top);
            ctx.strokeStyle = "#f23645";
            ctx.lineWidth = 1;
            ctx.strokeRect(left, top, right - left, bottom - top);
        });
        ctx.font = "14.4px " + fontName;
        ctx.textAlign = "right";
        ctx.textBaseline = "middle";
        fibRatios.forEach((r, i) => {
            ctx.fillStyle = fibTextColors[i];
            ctx.fillText(r + "(" + fibPrices[i].toFixed(3) + ")", x.getPixelForValue(fibLabelBar), y.getPixelForValue(fibPrices[i]) + .5);
        });
        ctx.restore();
    },
    afterDraw(chart) {
        const ctx = chart.ctx, x = chart.chartArea.right, y = chart.scales.y;
        ctx.save();
        ctx.textBaseline = "middle";
        ctx.textAlign = "left";
        levelPrices.forEach(p => {
            const py = y.getPixelForValue(p);
            ctx.fillStyle = "#000";
            ctx.beginPath();
            ctx.roundRect(x + .5, py - 9.5, 74, 19, [0, 3, 3, 0]);
            ctx.fill();
            ctx.fillStyle = "#fff";
            ctx.font = "bold 13px " + fontName;
            ctx.fillText(p.toFixed(3), x + 11.5, py + 1);
        });
        const py = y.getPixelForValue(lastPrice);
        ctx.fillStyle = "#ef5350";
        ctx.beginPath();
        ctx.roundRect(x + .5, py - 9, 74, 35, [0, 3, 3, 0]);
        ctx.fill();
        ctx.fillStyle = "#fff";
        ctx.font = "bold 13px " + fontName;
        ctx.fillText(lastPrice.toFixed(3), x + 11.5, py + 1);
        ctx.fillStyle = "#fbd5d4";
        ctx.font = "13px " + fontName;
        ctx.fillText("09:20", x + 11.5, py + 17);
        ctx.restore();
    }
};

const barIdx = opens.map((_, i) => i);
const upColor = closes.map((c, i) => c >= opens[i]);

const priceSets = [
    {
        type: "bar",
        data: barIdx.map(i => ({ x: i, y: [0, volumes[i]] })),
        backgroundColor: barIdx.map(i => upColor[i] ? "#92d2cc" : "#f7a9a7"),
        barThickness: 2,
        grouped: false,
        yAxisID: "vol",
        order: 20
    },
    {
        type: "bar",
        data: barIdx.map(i => ({ x: i, y: [lows[i], highs[i]] })),
        backgroundColor: barIdx.map(i => upColor[i] ? "#33701a" : "#ef5350"),
        barThickness: 1,
        grouped: false,
        yAxisID: "y",
        order: 12
    },
    {
        type: "bar",
        data: barIdx.map(i => ({ x: i, y: [Math.min(opens[i], closes[i]), Math.max(opens[i], closes[i])] })),
        backgroundColor: barIdx.map(i => upColor[i] ? "#8fe58f" : "#ef5350"),
        borderColor: barIdx.map(i => upColor[i] ? "#55a845" : "#ef5350"),
        borderWidth: 1,
        borderSkipped: false,
        barThickness: 3,
        minBarLength: 1,
        grouped: false,
        yAxisID: "y",
        order: 11
    },
    lineSet(maBars, maValues, "#f23645", 1.3, null, 9, true),
    lineSet([xMin, xMax], [lastPrice, lastPrice], "#f23645", 1.4, [1, 2], 8),
    lineSet(fibDiagBars, fibDiagPrices, "#000", 1.2, [6, 6], 5)
];
levelPrices.forEach(p => priceSets.push(lineSet([xMin, xMax], [p, p], "#000", 1.4, null, 4)));
fibPrices.forEach((p, i) => priceSets.push(lineSet([fibStartBar, fibEndBar], [p, p], fibColors[i], 1.3, null, 5)));
trendBars.forEach((b, i) => priceSets.push(lineSet(b, trendPrices[i], "#000", 1.2, null, 4)));
arrowBars.forEach((b, i) => priceSets.push(lineSet(b, arrowPrices[i], "#f23645", 3, null, 3)));

new Chart(document.getElementById("priceChart"), {
    type: "bar",
    data: { datasets: priceSets },
    plugins: [toolsPlugin],
    options: {
        responsive: false,
        animation: false,
        events: [],
        layout: { padding: 0 },
        plugins: { legend: { display: false }, tooltip: { enabled: false } },
        scales: {
            x: xScale(false),
            y: yScale(1770.67, 1879.32, priceTicks, fmtValue),
            vol: { display: false, min: -.3, max: 171 }
        }
    }
});

const histColors = histValues.map((v, i) => {
    const prev = i ? histValues[i - 1] : v;
    if (v >= 0) return v >= prev ? "#26a69a" : "#b2dfdb";
    return v <= prev ? "#ff5252" : "#ffcdd2";
});

new Chart(document.getElementById("macdChart"), {
    type: "bar",
    data: {
        datasets: [
            {
                type: "bar",
                data: histValues.map((v, i) => ({ x: i, y: [0, v] })),
                backgroundColor: histColors,
                barThickness: 2,
                grouped: false,
                order: 5
            },
            lineSet([xMin, xMax], [0, 0], "#9598a1", 1, [4, 4], 6),
            lineSet(signalBars, signalValues, "#ff6d00", 1.4, null, 2, true),
            lineSet(macdBars, macdValues, "#2962ff", 1.4, null, 1, true)
        ]
    },
    options: {
        responsive: false,
        animation: false,
        events: [],
        layout: { padding: 0 },
        plugins: { legend: { display: false }, tooltip: { enabled: false } },
        scales: {
            x: xScale(false),
            y: yScale(-7.622, 7.838, macdTicks, fmtValue)
        }
    }
});

new Chart(document.getElementById("aoChart"), {
    type: "bar",
    data: { datasets: [lineSet([xMin, xMax], [0, 0], "rgba(0,0,0,0)", 1, null, 1)] },
    plugins: [{
        id: "timeLine",
        afterDraw(chart) {
            const c = chart.ctx, a = chart.chartArea;
            c.save();
            c.strokeStyle = "#131722";
            c.beginPath();
            c.moveTo(a.left, a.bottom + .5);
            c.lineTo(a.right, a.bottom + .5);
            c.stroke();
            c.restore();
        }
    }],
    options: {
        responsive: false,
        animation: false,
        events: [],
        layout: { padding: 0 },
        plugins: { legend: { display: false }, tooltip: { enabled: false } },
        scales: {
            x: xScale(true),
            y: yScale(-24, 14, aoTicks, fmtValue)
        }
    }
});
</script>
</body>
</html>
